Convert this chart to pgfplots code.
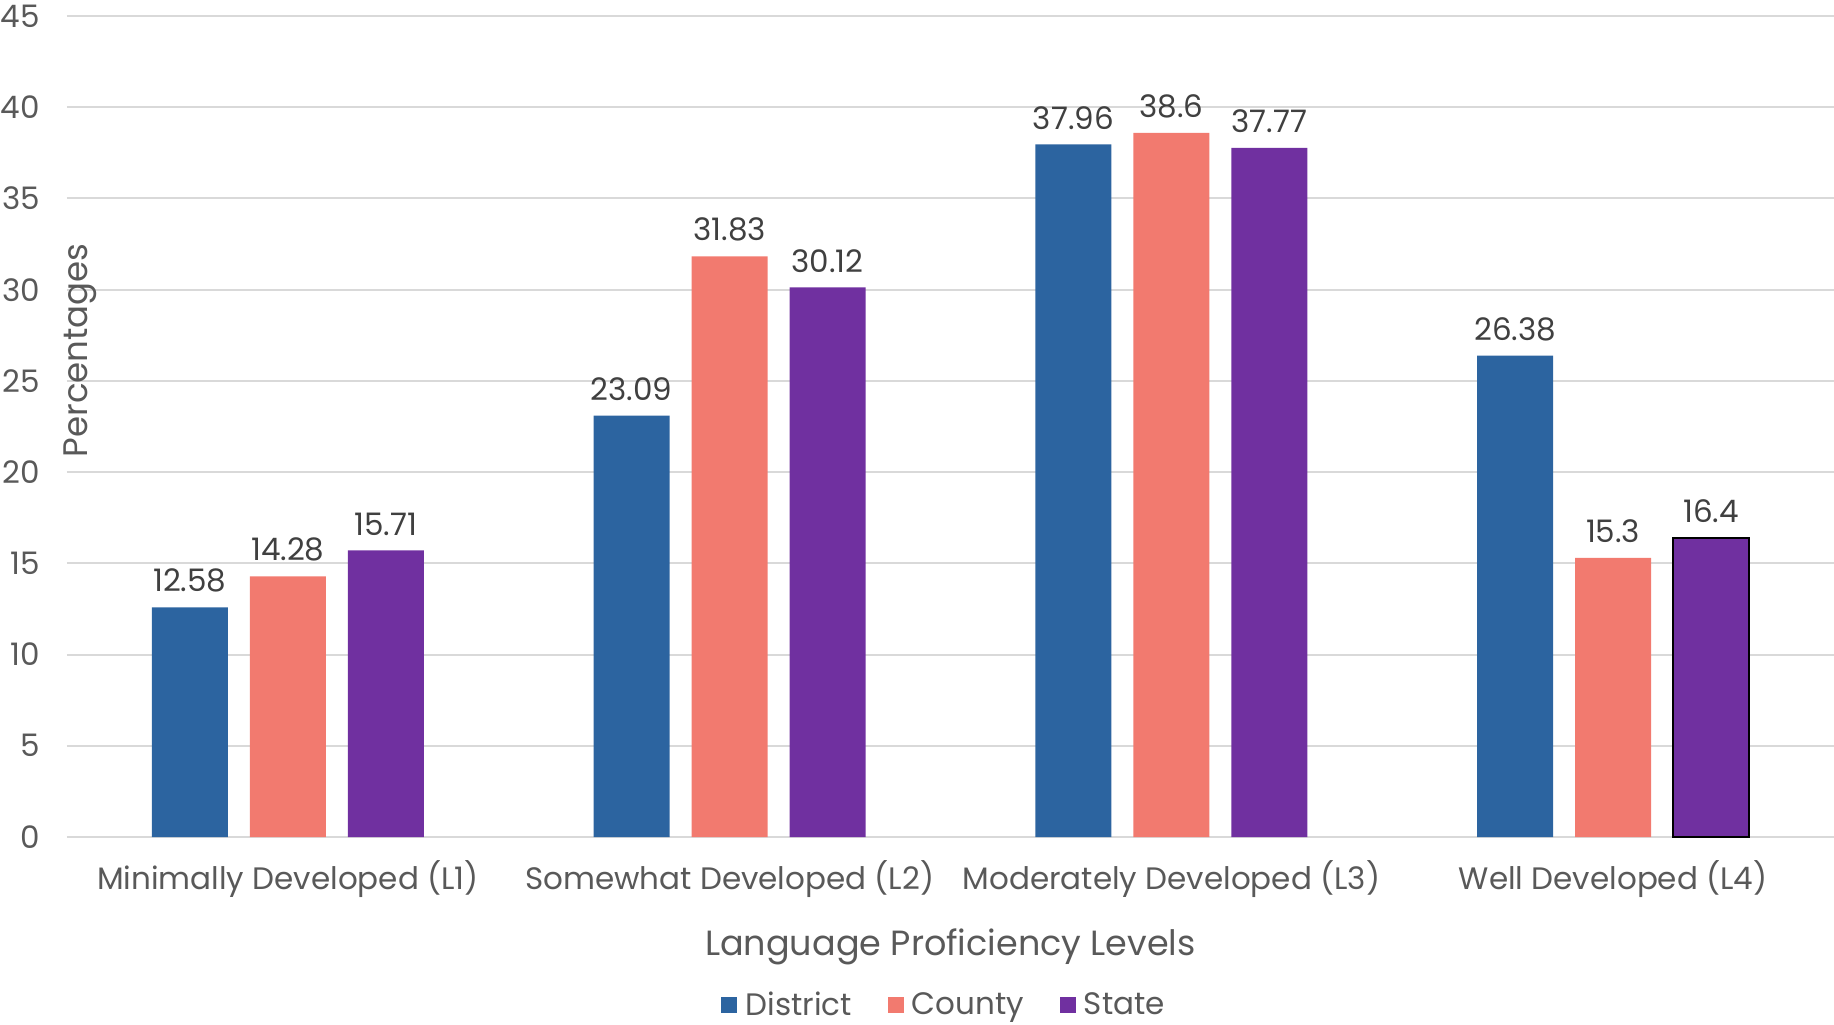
\documentclass[border=0pt]{standalone}
\usepackage{pgfplots}
\pgfplotsset{compat=1.18}
\usepackage{fontspec}
\setmainfont{Poppins}
\definecolor{district}{HTML}{2C64A0}
\definecolor{county}{HTML}{F27A6F}
\definecolor{state}{HTML}{7030A0}
\definecolor{txt}{HTML}{595959}
\definecolor{lbl}{HTML}{404040}
\definecolor{grd}{HTML}{D9D9D9}
\begin{document}
\begin{tikzpicture}
\begin{axis}[
  at={(0,0)}, anchor=south west,
  scale only axis,
  width=883.5pt, height=410.5pt,
  xmin=-0.5, xmax=3.5,
  ymin=0, ymax=45,
  ytick={0,5,...,45},
  xtick={0,1,2,3},
  xticklabels={Minimally Developed (L1),Somewhat Developed (L2),Moderately Developed (L3),Well Developed (L4)},
  /pgf/number format/assume math mode=true,
  axis line style={draw=none},
  major tick length=0pt,
  ymajorgrids,
  grid style={draw=grd, line width=1pt},
  ticklabel style={text=txt, font=\fontsize{15.5}{18}\selectfont},
  yticklabel style={anchor=east, xshift=-10pt},
  xticklabel style={yshift=-8pt},
  xlabel={Language Proficiency Levels},
  xlabel style={text=txt, font=\fontsize{17.5}{20}\selectfont, at={(axis description cs:0.5,0)}, anchor=center, yshift=-55pt},
  ylabel={Percentages},
  ylabel style={text=txt, font=\fontsize{17}{20}\selectfont, at={(axis description cs:0,0.594)}, anchor=center, xshift=-0.5pt, yshift=-6.5pt},
  ybar, bar width=38pt,
  nodes near coords,
  every node near coord/.append style={text=lbl, font=\fontsize{15.5}{18}\selectfont, yshift=4pt},
  legend style={at={(axis description cs:0.497,0)}, anchor=center, yshift=-84pt, draw=none, fill=none, legend columns=3, text=txt, font=\fontsize{15.5}{18}\selectfont, /tikz/every even column/.append style={column sep=16pt}, /tikz/every odd column/.append style={column sep=2pt}},
  legend image code/.code={\fill[#1] (0pt,-4pt) rectangle (8pt,4pt);},
]
\addplot[fill=district, draw=none, bar shift=-49pt] coordinates {(0,12.58) (1,23.09) (2,37.96) (3,26.38)};
\addplot[fill=county, draw=none, bar shift=0pt] coordinates {(0,14.28) (1,31.83) (2,38.6) (3,15.3)};
\addplot[fill=state, draw=none, bar shift=49pt] coordinates {(0,15.71) (1,30.12) (2,37.77) (3,16.4)};
\legend{District,County,State}
\end{axis}
\begin{axis}[
  at={(0,0)}, anchor=south west,
  scale only axis,
  width=883.5pt, height=410.5pt,
  xmin=-0.5, xmax=3.5, ymin=0, ymax=45,
  hide axis, ybar, bar width=38pt,
]
\addplot[fill=state, draw=black, line width=1pt, bar shift=49pt] coordinates {(3,16.4)};
\end{axis}
\pgfresetboundingbox
\useasboundingbox (-33.5pt,-93.5pt) rectangle (883.5pt,418.5pt);
\end{tikzpicture}
\end{document}
